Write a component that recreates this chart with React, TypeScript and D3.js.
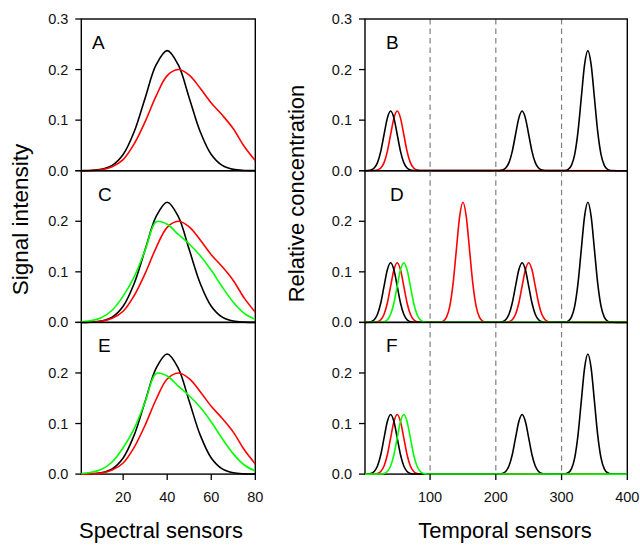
import React from 'react';
import * as d3 from 'd3';

const spectralX = [0, 5, 10, 15, 20, 25, 30, 35, 40, 45, 50, 55, 60, 65, 70, 75, 80];
const spectralBlack = [0.0001, 0.0005, 0.0026, 0.0104, 0.032, 0.077, 0.144, 0.2096, 0.2375, 0.2096, 0.144, 0.077, 0.032, 0.0104, 0.0026, 0.0005, 0.0001];
const spectralRed = [0, 0.0005, 0.002, 0.008, 0.022, 0.053, 0.097, 0.148, 0.188, 0.2, 0.189, 0.163, 0.134, 0.11, 0.083, 0.048, 0.02];
const spectralGreen = [0.001, 0.003, 0.009, 0.024, 0.052, 0.09, 0.143, 0.199, 0.194, 0.174, 0.155, 0.132, 0.103, 0.07, 0.04, 0.018, 0.006];

// temporal peaks: one peak shape, two sizes
const peakOffsets = [-35, -30, -25, -20, -15, -10, -5, 0, 5, 10, 15, 20, 25, 30, 35];
const smallPeak = [0.0003, 0.0013, 0.0052, 0.016, 0.0383, 0.0716, 0.104, 0.118, 0.104, 0.0716, 0.0383, 0.016, 0.0052, 0.0013, 0.0003];
const bigPeak = [0.0005, 0.0026, 0.0104, 0.0321, 0.0771, 0.144, 0.2096, 0.2375, 0.2096, 0.144, 0.0771, 0.0321, 0.0104, 0.0026, 0.0005];

const blackPeaksB = [[40, 'small'], [240, 'small'], [340, 'big']];
const redPeaksB = [[50, 'small']];
const blackPeaksD = [[40, 'small'], [240, 'small'], [340, 'big']];
const redPeaksD = [[50, 'small'], [150, 'big'], [250, 'small']];
const greenPeaksD = [[60, 'small']];
const blackPeaksF = [[40, 'small'], [240, 'small'], [340, 'big']];
const redPeaksF = [[50, 'small']];
const greenPeaksF = [[60, 'small']];

const yTicks = [0, 0.1, 0.2, 0.3];
const spectralTicks = [20, 40, 60, 80];
const temporalTicks = [100, 200, 300, 400];
const dashedAt = [100, 200, 300];
const panelLetters = ['A', 'B', 'C', 'D', 'E', 'F'];

const FONT = 'Liberation Sans, Arial, sans-serif';
const BLACK = '#000000', RED = '#ff0000', GREEN = '#00ff00';

const rowTop = 19, rowH = 151.7;
const xSpec = d3.scaleLinear().domain([1, 80]).range([81.3, 255.3]);
const xTemp = d3.scaleLinear().domain([1, 400]).range([365, 627.3]);

function temporalSeries(peaks) {
  const pts = [[1, 0]];
  peaks.forEach(([c, size]) => {
    const shape = size === 'big' ? bigPeak : smallPeak;
    peakOffsets.forEach((o, i) => pts.push([c + o, shape[i]]));
  });
  pts.push([400, 0]);
  return pts.sort((a, b) => a[0] - b[0]);
}

const spectral = (vals) => spectralX.map((x, i) => [x, vals[i]]);

const panels = [
  { col: 0, row: 0, letter: 0, lx: 92, series: [[spectral(spectralBlack), BLACK], [spectral(spectralRed), RED]] },
  { col: 1, row: 0, letter: 1, lx: 386, series: [[temporalSeries(redPeaksB), RED], [temporalSeries(blackPeaksB), BLACK]] },
  { col: 0, row: 1, letter: 2, lx: 98, series: [[spectral(spectralBlack), BLACK], [spectral(spectralRed), RED], [spectral(spectralGreen), GREEN]] },
  { col: 1, row: 1, letter: 3, lx: 390, series: [[temporalSeries(redPeaksD), RED], [temporalSeries(blackPeaksD), BLACK], [temporalSeries(greenPeaksD), GREEN]] },
  { col: 0, row: 2, letter: 4, lx: 98, series: [[spectral(spectralBlack), BLACK], [spectral(spectralRed), RED], [spectral(spectralGreen), GREEN]] },
  { col: 1, row: 2, letter: 5, lx: 386, series: [[temporalSeries(redPeaksF), RED], [temporalSeries(blackPeaksF), BLACK], [temporalSeries(greenPeaksF), GREEN]] },
];

function Panel({ p }) {
  const x = p.col === 0 ? xSpec : xTemp;
  const top = rowTop + p.row * rowH;
  const y = d3.scaleLinear().domain([0, 0.3]).range([top + rowH, top]);
  const [x0, x1] = x.range();
  // smooth curves for the spectra, monotone for the peak trains (flat baseline)
  const curve = p.col === 0 ? d3.curveCatmullRom.alpha(0.5) : d3.curveMonotoneX;
  const line = d3.line().x((d) => x(d[0])).y((d) => y(Math.max(0, d[1]))).curve(curve);
  const clipId = 'clip' + p.col + p.row;
  const ticks = p.row === 0 ? yTicks : yTicks.slice(0, 3);
  return (
    <g>
      <defs>
        <clipPath id={clipId}>
          <rect x={x0} y={top - 2} width={x1 - x0} height={rowH + 4} />
        </clipPath>
      </defs>
      {p.col === 1 && dashedAt.map((v) => (
        <line key={v} x1={x(v)} x2={x(v)} y1={top} y2={top + rowH} stroke="#808080" strokeWidth={1.2} strokeDasharray="5.5,4" />
      ))}
      <rect x={x0} y={top} width={x1 - x0} height={rowH} fill="none" stroke="#000" strokeWidth={1.4} />
      {yTicks.map((t) => (
        <line key={t} x1={x0 - 6} x2={x0} y1={y(t)} y2={y(t)} stroke="#000" strokeWidth={1.3} />
      ))}
      {ticks.map((t) => (
        <text key={t} x={x0 - 13} y={y(t)} dy="0.35em" textAnchor="end" fontSize={14.5} fontFamily={FONT} fill="#111">
          {t.toFixed(1)}
        </text>
      ))}
      <g clipPath={`url(#${clipId})`}>
        {p.series.map(([pts, color], i) => (
          <path key={i} d={line(pts)} fill="none" stroke={color} strokeWidth={1.6} />
        ))}
      </g>
      <text x={p.lx} y={top + 30} fontSize={19} fontFamily={FONT} fill="#000">
        {panelLetters[p.letter]}
      </text>
      {p.row === 2 && (p.col === 0 ? spectralTicks : temporalTicks).map((t) => (
        <g key={t}>
          <line x1={x(t)} x2={x(t)} y1={top + rowH} y2={top + rowH + 6} stroke="#000" strokeWidth={1.3} />
          <text x={x(t)} y={top + rowH + 28} textAnchor="middle" fontSize={14.5} fontFamily={FONT} fill="#111">
            {t}
          </text>
        </g>
      ))}
    </g>
  );
}

export default function App() {
  return (
    <svg width={640} height={545} style={{ position: 'absolute', left: 0, top: 0, background: '#fff' }}>
      {panels.map((p, i) => (
        <Panel key={i} p={p} />
      ))}
      <text transform="translate(28,219.5) rotate(-90)" textAnchor="middle" fontSize={22.5} fontFamily={FONT}>
        Signal intensity
      </text>
      <text transform="translate(304,193.5) rotate(-90)" textAnchor="middle" fontSize={22} fontFamily={FONT}>
        Relative concentration
      </text>
      <text x={161} y={538} textAnchor="middle" fontSize={22} fontFamily={FONT}>
        Spectral sensors
      </text>
      <text x={505} y={538} textAnchor="middle" fontSize={22} fontFamily={FONT}>
        Temporal sensors
      </text>
    </svg>
  );
}
